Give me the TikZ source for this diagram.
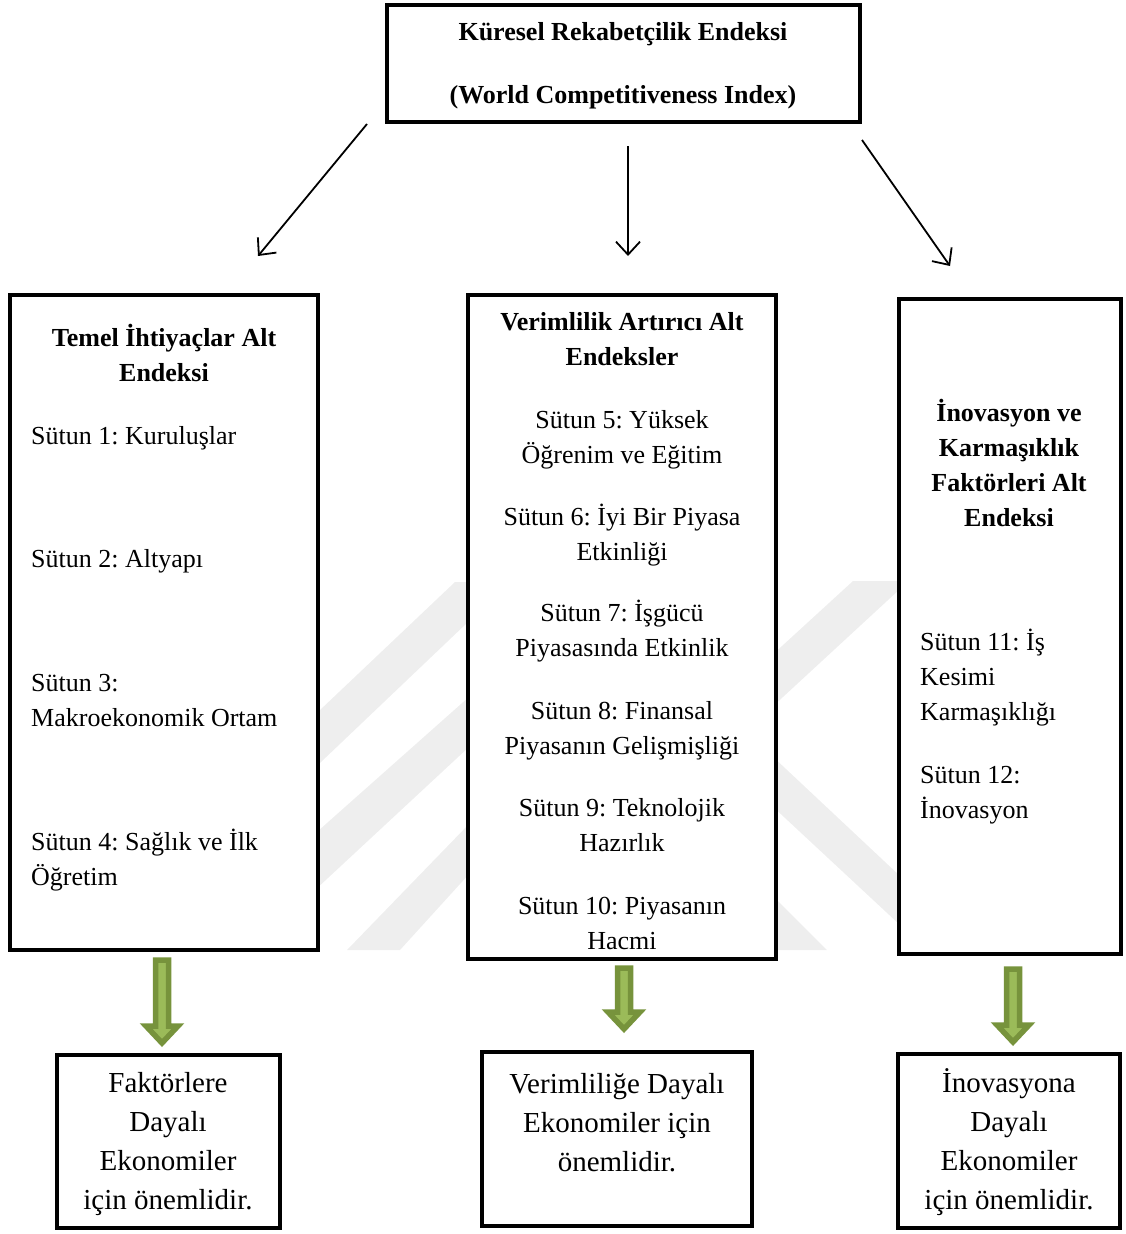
\documentclass[tikz,border=0pt]{standalone}
\usepackage{fontspec}
\setmainfont{Liberation Serif}
\frenchspacing
\usetikzlibrary{arrows.meta}

\definecolor{olive}{HTML}{77933C}
\definecolor{leaf}{HTML}{9BBB59}
\definecolor{wmgray}{gray}{0.935}

% thick green block arrow between two named points
\newcommand{\greenarrow}[2]{
  \draw[garrow] ([xshift=-6.5pt]#1) -- ([xshift=6.5pt]#1) -- ([xshift=6.5pt,yshift=17pt]#2)
    -- ([xshift=16pt,yshift=17pt]#2) -- (#2) -- ([xshift=-16pt,yshift=17pt]#2)
    -- ([xshift=-6.5pt,yshift=17pt]#2) -- cycle;
}

\begin{document}
\begin{tikzpicture}[x=1pt,y=-1pt,
  box/.style={draw, line width=3.6pt, fill=white, inner sep=0pt},
  txt/.style={inner sep=0pt, font=\fontsize{26}{35}\selectfont},
  ttl/.style={inner sep=0pt, align=center, font=\bfseries\fontsize{26}{35}\selectfont},
  big/.style={inner sep=0pt, align=center, font=\fontsize{29}{39}\selectfont},
  thin/.style={line width=1.8pt, -{Straight Barb[length=13pt,width=24pt]}},
  garrow/.style={draw=olive, fill=leaf, line width=5.5pt, line join=miter, miter limit=3}]

\useasboundingbox (0,0) rectangle (1126,1234);

% watermark
\fill[wmgray] (300,729) -- (455,582) -- (510,582) -- (300,782) -- cycle;
\fill[wmgray] (300,847) -- (470,696) -- (470,746) -- (300,904) -- cycle;
\fill[wmgray] (347,950) -- (470,823) -- (470,873) -- (400,950) -- cycle;
\fill[wmgray] (770,657) -- (853,581) -- (900,581) -- (900,589) -- (770,709) -- cycle;
\fill[wmgray] (770,754) -- (900,876) -- (900,925) -- (770,804) -- cycle;
\fill[wmgray] (770,893) -- (827,950) -- (770,950) -- cycle;

% boxes
\node[box, minimum width=473pt, minimum height=117pt] (top) at (623.5,63.5) {};
\node[box, minimum width=308pt, minimum height=655pt] (lbox) at (164,622.5) {};
\node[box, minimum width=308pt, minimum height=664pt] (mbox) at (622,627) {};
\node[box, minimum width=222pt, minimum height=655pt] (rbox) at (1010,626.5) {};
\node[box, minimum width=223pt, minimum height=173pt] (lres) at (168.5,1141.5) {};
\node[box, minimum width=270pt, minimum height=174pt] (mres) at (617,1139) {};
\node[box, minimum width=222pt, minimum height=174pt] (rres) at (1009,1141) {};

% top title (anchor = baseline of last line)
\node[ttl, anchor=base] (ttext) at (623,103) {Küresel Rekabetçilik Endeksi\\[28pt](World Competitiveness Index)};

% left column
\node[ttl, anchor=base] (ltitle) at (164,381) {Temel İhtiyaçlar Alt\\Endeksi};
\node[txt, anchor=base west] (l1) at (31,444) {Sütun 1: Kuruluşlar};
\node[txt, anchor=base west] (l2) at (31,567) {Sütun 2: Altyapı};
\node[txt, anchor=base west, align=left] (l3) at (31,726) {Sütun 3:\\Makroekonomik Ortam};
\node[txt, anchor=base west, align=left] (l4) at (31,885) {Sütun 4: Sağlık ve İlk\\Öğretim};

% middle column
\node[ttl, anchor=base] (mtitle) at (622,365) {Verimlilik Artırıcı Alt\\Endeksler};
\node[txt, anchor=base, align=center] (m5) at (622,463) {Sütun 5: Yüksek\\Öğrenim ve Eğitim};
\node[txt, anchor=base, align=center] (m6) at (622,560) {Sütun 6: İyi Bir Piyasa\\Etkinliği};
\node[txt, anchor=base, align=center] (m7) at (622,656) {Sütun 7: İşgücü\\Piyasasında Etkinlik};
\node[txt, anchor=base, align=center] (m8) at (622,754) {Sütun 8: Finansal\\Piyasanın Gelişmişliği};
\node[txt, anchor=base, align=center] (m9) at (622,851) {Sütun 9: Teknolojik\\Hazırlık};
\node[txt, anchor=base, align=center] (m10) at (622,949) {Sütun 10: Piyasanın\\Hacmi};

% right column
\node[ttl, anchor=base] (rtitle) at (1009,526) {İnovasyon ve\\Karmaşıklık\\Faktörleri Alt\\Endeksi};
\node[txt, anchor=base west, align=left] (r11) at (920,720) {Sütun 11: İş\\Kesimi\\Karmaşıklığı};
\node[txt, anchor=base west, align=left] (r12) at (920,818) {Sütun 12:\\İnovasyon};

% results
\node[big, anchor=base] (ltext) at (168,1209) {Faktörlere\\Dayalı\\Ekonomiler\\için önemlidir.};
\node[big, anchor=base] (mtext) at (617,1171) {Verimliliğe Dayalı\\Ekonomiler için\\önemlidir.};
\node[big, anchor=base] (rtext) at (1009,1209) {İnovasyona\\Dayalı\\Ekonomiler\\için önemlidir.};

% black arrows
\coordinate (a1) at (367,124);
\coordinate (b1) at (258,256);
\coordinate (a2) at (628,146);
\coordinate (b2) at (628,256);
\coordinate (a3) at (862,140);
\coordinate (b3) at (950,266);
\draw[thin] (a1) -- (b1);
\draw[thin] (a2) -- (b2);
\draw[thin] (a3) -- (b3);

% green arrows
\coordinate (g1) at (162,960);
\coordinate (h1) at (162,1043);
\coordinate (g2) at (624,968);
\coordinate (h2) at (624,1029);
\coordinate (g3) at (1013,969);
\coordinate (h3) at (1013,1042);
\greenarrow{g1}{h1}
\greenarrow{g2}{h2}
\greenarrow{g3}{h3}

\end{tikzpicture}
\end{document}
